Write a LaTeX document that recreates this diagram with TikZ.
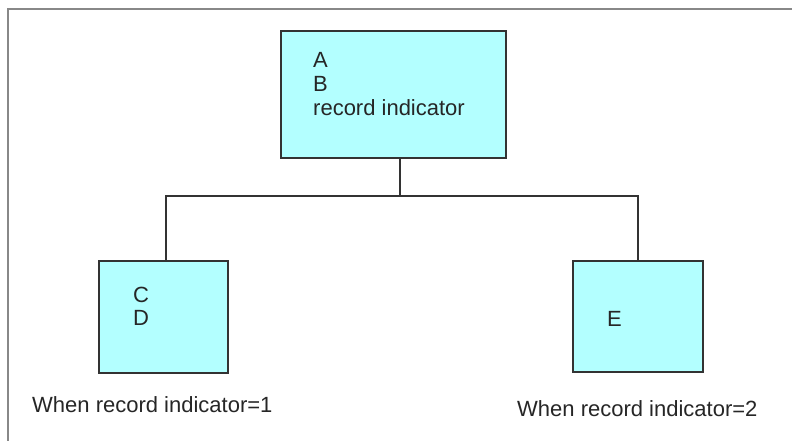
\documentclass[tikz,border=0pt]{standalone}
\usepackage{fontspec}
\setmainfont{Liberation Sans}
\definecolor{boxfill}{HTML}{B3FFFF}
\definecolor{boxline}{HTML}{333333}
\definecolor{framecol}{HTML}{888888}
\begin{document}
\begin{tikzpicture}[x=1pt,y=-1pt,
  box/.style={draw=boxline, fill=boxfill, line width=2pt, rectangle, inner sep=0pt, outer sep=0pt},
  txt/.style={inner sep=0pt, anchor=base west, font=\fontsize{22}{24}\selectfont, text=black!85},
  conn/.style={draw=boxline, line width=2pt}]
\useasboundingbox (0,0) rectangle (792,441);
\fill[white] (0,0) rectangle (792,441);
\draw[framecol, line width=2.3pt] (8,441) -- (8,9) -- (792,9);
% boxes
\node[box, minimum width=225pt, minimum height=127pt] (top) at (393.5,94.5) {};
\node[box, minimum width=129pt, minimum height=112pt] (cd) at (163.5,317) {};
\node[box, minimum width=130pt, minimum height=111pt] (e) at (638,316.5) {};
% texts
\node[txt] (ta) at (313,68) {A};
\node[txt] (tb) at (313,92) {B};
\node[txt] (tr) at (313,116) {record indicator};
\node[txt] (tc) at (133,302) {C};
\node[txt] (td) at (133,325) {D};
\node[txt] (te) at (607,326) {E};
\node[txt] (l1) at (32,412) {When record indicator=1};
\node[txt] (l2) at (517,416) {When record indicator=2};
% connectors
\coordinate (j) at (400,196);
\draw[conn] (j |- top.south) -- (j);
\draw[conn] ([xshift=2.5pt]cd.north) |- (j) -| (e.north);
\end{tikzpicture}
\end{document}
